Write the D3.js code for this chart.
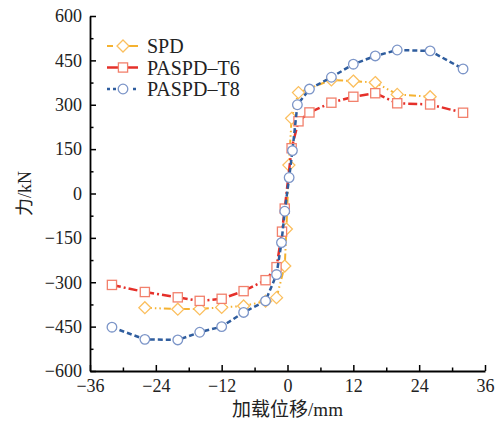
<!DOCTYPE html>
<html>
<head>
<meta charset="utf-8">
<script src="https://cdn.jsdelivr.net/npm/d3@7"></script>
<style>
  body { margin: 0; background: #fff; }
  svg { display: block; }
</style>
</head>
<body>
<div id="chart"></div>
<script>
// skeleton curves, [displacement mm, force kN]
const spd = [
  [-26, -386], [-20, -391], [-16, -390], [-12, -385], [-8, -380], [-4, -364],
  [-2, -352], [-0.5, -245], [-0.2, -120], [0.25, 96], [0.75, 254], [2, 341],
  [8, 384], [12, 380], [16, 375], [20, 335], [26, 327]
];
const t6 = [
  [-32, -309], [-26, -333], [-20, -351], [-16, -363], [-12, -356], [-8, -330],
  [-4, -293], [-2, -249], [-1, -129], [-0.5, -51], [0.75, 153], [2, 244],
  [4, 274], [8, 307], [12, 327], [16, 339], [20, 305], [26, 301], [32, 273]
];
const t8 = [
  [-32, -452], [-26, -493], [-20, -495], [-16, -469], [-12, -450], [-8, -402],
  [-4, -363], [-2, -274], [-1.1, -166], [-0.5, -60], [0.3, 54], [0.9, 145],
  [1.8, 300], [4, 353], [8, 393], [12, 437], [16, 465], [20, 485], [26, 482], [32, 421]
];
const seriesNames = ['SPD', 'PASPD\u2013T6', 'PASPD\u2013T8'];
const xTicks = [-36, -24, -12, 0, 12, 24, 36];
const yTicks = [-600, -450, -300, -150, 0, 150, 300, 450, 600];

const width = 500, height = 432;
const marginLeft = 90, marginRight = 15, marginTop = 16, marginBottom = 61;
const serif = 'Liberation Serif';
const serifCjk = 'Liberation Serif, Noto Sans CJK SC';

const styles = [
  { line: '#f5b230', mark: '#fbbf5e', dash: '7,3,1.5,3,1.5,3', lw: 2, shape: 'diamond' },
  { line: '#e5302a', mark: '#f2806c', dash: '9,3,2,3', lw: 2.5, shape: 'square' },
  { line: '#2f5d9e', mark: '#7c95c8', dash: '5,3', lw: 2.5, shape: 'circle' }
];
const allData = [spd, t6, t8];

const svg = d3.select('#chart').append('svg')
  .attr('width', width)
  .attr('height', height)
  .attr('viewBox', [0, 0, width, height]);

const x = d3.scaleLinear([-36, 36], [marginLeft, width - marginRight]);
const y = d3.scaleLinear([-600, 600], [height - marginBottom, marginTop]);

// markers
function drawMarker(g, shape, cx, cy, color) {
  if (shape === 'circle') {
    g.append('circle').attr('cx', cx).attr('cy', cy).attr('r', 4.8)
      .attr('fill', '#fff').attr('stroke', color).attr('stroke-width', 1.3);
  } else if (shape === 'square') {
    g.append('rect').attr('x', cx - 4.6).attr('y', cy - 4.6).attr('width', 9.2).attr('height', 9.2)
      .attr('fill', '#fff').attr('stroke', color).attr('stroke-width', 1.3);
  } else {
    const r = 6;
    g.append('path').attr('d', `M${cx},${cy - r}L${cx + r},${cy}L${cx},${cy + r}L${cx - r},${cy}Z`)
      .attr('fill', '#fff').attr('stroke', color).attr('stroke-width', 1.3);
  }
}

const line = d3.line().x((d) => x(d[0])).y((d) => y(d[1]));

allData.forEach((data, k) => {
  const s = styles[k];
  const g = svg.append('g');
  g.append('path')
    .attr('d', line(data))
    .attr('fill', 'none')
    .attr('stroke', s.line)
    .attr('stroke-width', s.lw)
    .attr('stroke-dasharray', s.dash);
  data.forEach((d) => drawMarker(g, s.shape, x(d[0]), y(d[1]), s.mark));
});

// Y AXIS
svg.append('g')
  .attr('transform', `translate(${marginLeft},0)`)
  .call(d3.axisLeft(y).tickValues(d3.range(-525, 600, 150)).tickSize(-3.5).tickFormat(''))
  .call((g) => g.select('.domain').remove())
  .call((g) => g.selectAll('.tick line').attr('stroke-width', 1.5));

svg.append('g')
  .attr('transform', `translate(${marginLeft},0)`)
  .call(d3.axisLeft(y).tickValues(yTicks).tickSize(-6).tickSizeOuter(0).tickPadding(8))
  .attr('font-family', serif)
  .attr('font-size', 18)
  .call((g) => g.select('.domain').attr('stroke-width', 1.8))
  .call((g) => g.selectAll('.tick line').attr('stroke-width', 1.5))
  .call((g) => g.selectAll('.tick text').attr('fill', '#222'));

// X AXIS
svg.append('g')
  .attr('transform', `translate(0,${height - marginBottom})`)
  .call(d3.axisBottom(x).tickValues(d3.range(-30, 36, 12)).tickSize(-3.5).tickFormat(''))
  .call((g) => g.select('.domain').remove())
  .call((g) => g.selectAll('.tick line').attr('stroke-width', 1.5));

svg.append('g')
  .attr('transform', `translate(0,${height - marginBottom})`)
  .call(d3.axisBottom(x).tickValues(xTicks).tickSize(-6).tickSizeOuter(0).tickPadding(8))
  .attr('font-family', serif)
  .attr('font-size', 18)
  .call((g) => g.select('.domain').attr('stroke-width', 1.8))
  .call((g) => g.selectAll('.tick line').attr('stroke-width', 1.5))
  .call((g) => g.selectAll('.tick text').attr('fill', '#222'));

// AXIS TITLES
svg.append('text')
  .attr('x', (x(-36) + x(36)) / 2)
  .attr('y', 416)
  .attr('text-anchor', 'middle')
  .attr('font-family', serifCjk)
  .attr('font-size', 19)
  .attr('fill', '#222')
  .text('加载位移/mm');

svg.append('text')
  .attr('transform', `translate(31,${y(0)}) rotate(-90)`)
  .attr('text-anchor', 'middle')
  .attr('font-family', serifCjk)
  .attr('font-size', 18)
  .attr('fill', '#222')
  .text('力/kN');

// LEGEND
const legend = svg.append('g').attr('transform', 'translate(107,46)');
seriesNames.forEach((name, k) => {
  const s = styles[k];
  const row = legend.append('g').attr('transform', `translate(0,${k * 21.5})`);
  row.append('line')
    .attr('x1', 0).attr('x2', 31).attr('y1', 0).attr('y2', 0)
    .attr('stroke', s.line).attr('stroke-width', s.lw)
    .attr('stroke-dasharray', k === 1 ? null : (k === 0 ? '6,5,20,5' : '3,3,3,17,3,3'));
  drawMarker(row, s.shape, 16, 0, s.mark);
  row.append('text')
    .attr('x', 40).attr('y', 7)
    .attr('font-family', serif)
    .attr('font-size', 20)
    .attr('fill', '#222')
    .text(name);
});
</script>
</body>
</html>
